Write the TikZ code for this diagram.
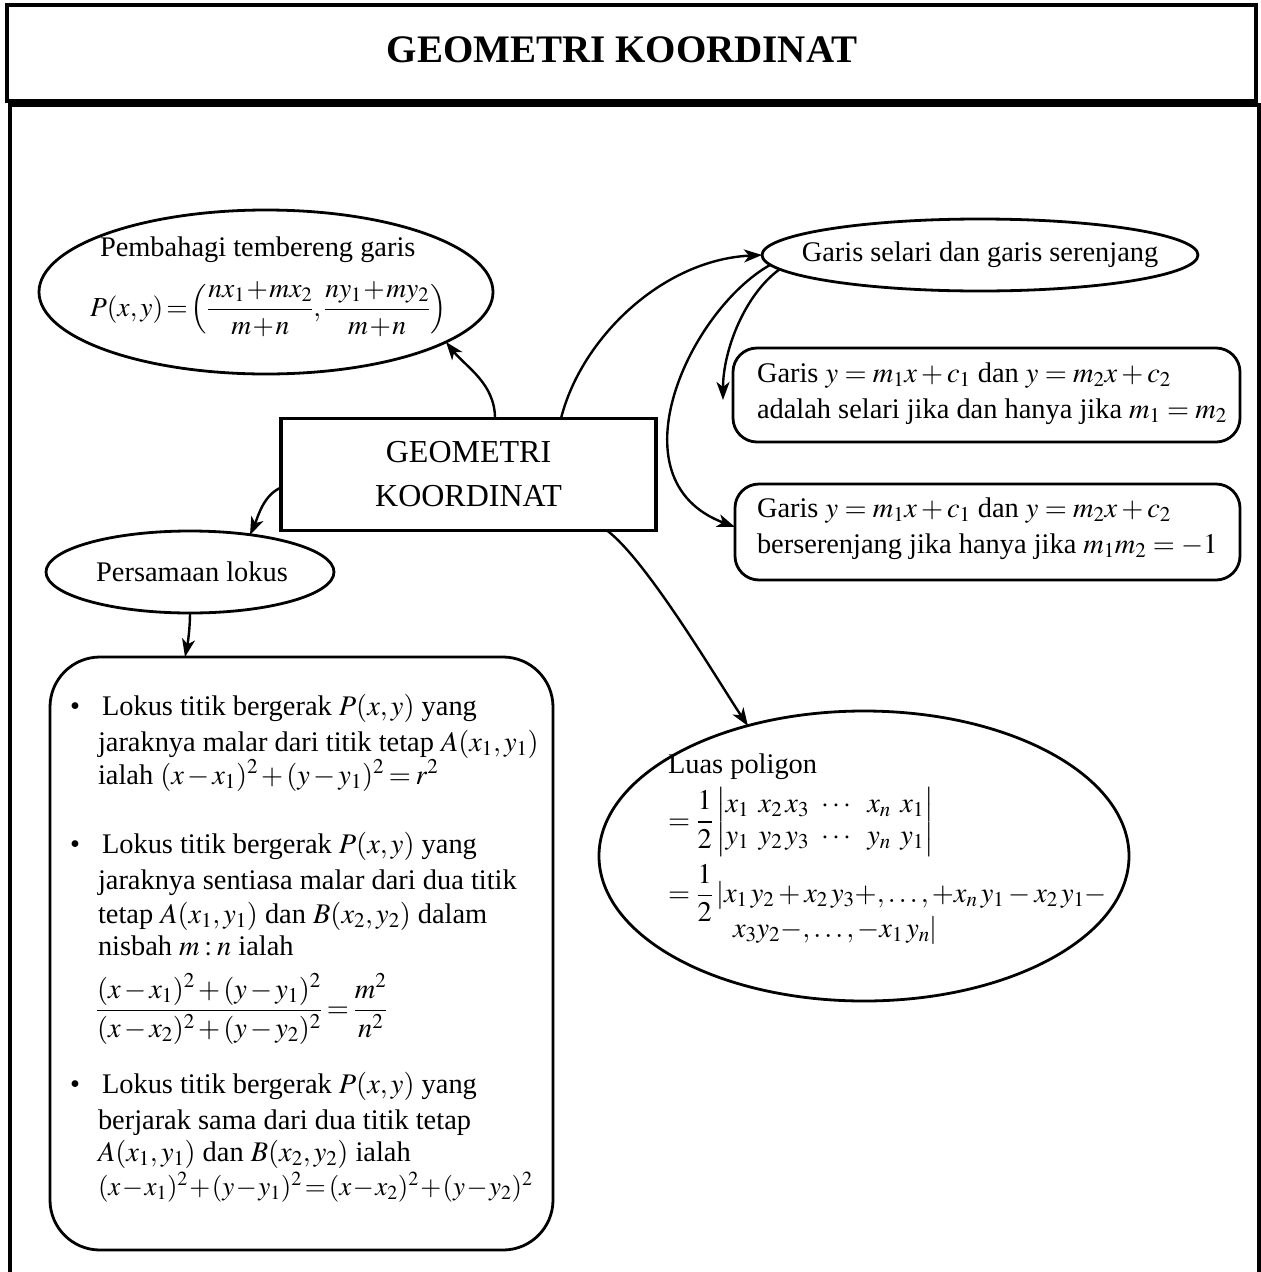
\documentclass[tikz,border=0pt]{standalone}
\usepackage{amsmath}
\usepackage{mathptmx}
\usepackage{fontspec}
\setmainfont{Liberation Serif}
\usetikzlibrary{shapes.geometric,arrows.meta,calc}
\newcommand\tightmath{\medmuskip=2mu\relax\thickmuskip=3mu\relax}
\newcommand\tightermath{\medmuskip=1mu\relax\thickmuskip=2mu\relax\thinmuskip=2mu\relax}
\begin{document}
\begin{tikzpicture}[x=1pt,y=-1pt,
  every node/.style={inner sep=0pt,outer sep=0pt},
  oval/.style={draw,ellipse,line width=2.8pt},
  rbox/.style={draw,rounded corners=24pt,line width=2.8pt},
  bigbox/.style={draw,rounded corners=50pt,line width=2.8pt},
  txt/.style={anchor=base west,font=\fontsize{28.4}{34}\selectfont},
  ttxt/.style={txt,execute at begin node=\tightmath},
  ctr/.style={font=\fontsize{28.4}{34}\selectfont},
  arr/.style={line width=2.4pt,-{Stealth[length=18pt,width=13pt,inset=5pt]}}]
\useasboundingbox (0,0) rectangle (1261,1272);
\fill[white] (0,0) rectangle (1261,1272);
% frame
\draw[line width=3.5pt] (7,5) rectangle (1256,101);
\draw[line width=4.5pt] (10,1290) -- (10,105) -- (1259,105) -- (1259,1290);
\node[font=\fontsize{39}{44}\selectfont\bfseries] (title) at (622,50) {GEOMETRI KOORDINAT};

% hub
\node[draw,line width=3.5pt,minimum width=375pt,minimum height=112pt,align=center,
  font=\fontsize{32}{44}\selectfont] (hub) at (468.5,474.5) {GEOMETRI\\KOORDINAT};

% Pembahagi
\node[oval,minimum width=454pt,minimum height=164pt] (pemb) at (266,292) {};
\node[txt] (pembT) at (100,256) {Pembahagi tembereng garis};
\node[txt,font=\fontsize{27.5}{34}\selectfont,execute at begin node=\tightermath] (pembF) at (90,316) {$P(x, y) = \Bigl(\dfrac{nx_1 + mx_2}{m+n}, \dfrac{ny_1+my_2}{m+n}\Bigr)$};

% Garis selari
\node[oval,minimum width=436pt,minimum height=72pt] (garis) at (980,255) {};
\node[ctr] (garisT) at (980,255) {Garis selari dan garis serenjang};

\node[rbox,minimum width=507pt,minimum height=94pt] (b1) at (986.5,395) {};
\node[txt] (b1a) at (757,382) {Garis $y = m_1x + c_1$ dan $y = m_2x + c_2$};
\node[txt] (b1b) at (757,418) {adalah selari jika dan hanya jika $m_1 = m_2$};

\node[rbox,minimum width=505pt,minimum height=96pt] (b2) at (987.5,532) {};
\node[txt] (b2a) at (757,517) {Garis $y = m_1x + c_1$ dan $y = m_2x + c_2$};
\node[txt] (b2b) at (757,553) {berserenjang jika hanya jika $m_1m_2 = -1$};

% Persamaan lokus
\node[oval,minimum width=288pt,minimum height=82pt] (pers) at (190,572) {};
\node[ctr] (persT) at (192,572) {Persamaan lokus};

\node[bigbox,minimum width=503pt,minimum height=593pt] (lokus) at (301.5,953.5) {};
\node[txt] (k1) at (70,715) {\textbullet};
\node[ttxt] (l1) at (102,715) {Lokus titik bergerak $P(x, y)$ yang};
\node[ttxt] (l2) at (98,751) {jaraknya malar dari titik tetap $A(x_1, y_1)$};
\node[ttxt] (l3) at (98,784) {ialah $(x - x_1)^2 + (y - y_1)^2 = r^2$};
\node[txt] (k2) at (70,853) {\textbullet};
\node[ttxt] (l4) at (102,853) {Lokus titik bergerak $P(x, y)$ yang};
\node[ttxt] (l5) at (98,889) {jaraknya sentiasa malar dari dua titik};
\node[ttxt] (l6) at (98,923) {tetap $A(x_1, y_1)$ dan $B(x_2, y_2)$ dalam};
\node[ttxt] (l7) at (98,955) {nisbah $m : n$ ialah};
\node[ttxt,anchor=west] (l8) at (96,1009) {$\dfrac{(x - x_1)^2 + (y - y_1)^2}{(x - x_2)^2 + (y - y_2)^2} = \dfrac{m^2}{n^2}$};
\node[txt] (k3) at (70,1093) {\textbullet};
\node[ttxt] (l9) at (102,1093) {Lokus titik bergerak $P(x, y)$ yang};
\node[ttxt] (l10) at (98,1129) {berjarak sama dari dua titik tetap};
\node[ttxt] (l11) at (98,1161) {$A(x_1, y_1)$ dan $B(x_2, y_2)$ ialah};
\node[txt,font=\fontsize{27}{34}\selectfont,execute at begin node=\tightermath] (l12) at (98,1195) {$(x - x_1)^2 + (y - y_1)^2 = (x - x_2)^2 + (y - y_2)^2$};

% Luas poligon
\node[oval,minimum width=530pt,minimum height=290pt] (luas) at (864,856) {};
\node[txt] (p1) at (668,773) {Luas poligon};
\node[txt,anchor=west] (p2) at (668,822) {\renewcommand\arraystretch{0.95}$=\dfrac{1}{2}\left|\begin{array}{@{}c@{\;\,}c@{\,}c@{\;\;}c@{\;\;}c@{\;\,}c@{}} x_1 & x_2 & x_3 & \cdots & x_n & x_1\\ y_1 & y_2 & y_3 & \cdots & y_n & y_1\end{array}\right|$};
\node[txt,anchor=west] (p3) at (668,893) {$=\dfrac{1}{2}\,|x_1\,y_2 + x_2\,y_3 +, \ldots, + x_n\,y_1 - x_2\,y_1 -$};
\node[ttxt] (p4) at (733,937) {$x_3y_2 -, \ldots, - x_1\,y_n|$};

% connectors
\draw[arr] ($(hub.north west)+(214,0)$) .. controls +(0,-35) and +(20,25) .. ($(pemb.center)+(180,50)$);
\draw[arr] ($(hub.north west)+(280,0)$) .. controls +(20,-80) and +(-100,5) .. (garis.west);
\draw[arr] ($(hub.west)+(0,13)$) .. controls +(-18,8) and +(8,-18) .. ($(pers.center)+(60,-37)$);
\draw[arr] (pers.south) .. controls +(0,15) and +(3,-15) .. ($(lokus.north west)+(135,0)$);
\draw[arr] ($(garis.center)+(-200,14)$) .. controls +(-35,25) and +(0,-50) .. ($(b1.west)+(-10,5)$);
\draw[arr] ($(garis.center)+(-210,10)$) .. controls +(-80,45) and +(-125,-47) .. ($(b2.west)+(0,-5)$);
\draw[arr] ($(hub.south east)+(-49,0)$) .. controls +(40,30) and +(-30,-45) .. ($(luas.center)+(-116,-130)$);
\end{tikzpicture}
\end{document}
